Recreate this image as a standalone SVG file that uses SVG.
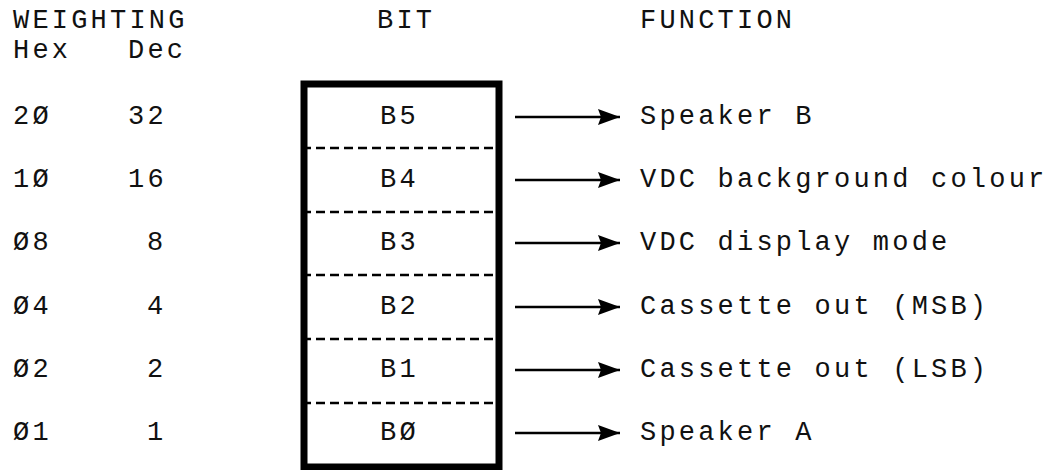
<svg xmlns="http://www.w3.org/2000/svg" width="1049" height="470" viewBox="0 0 1049 470">
  <style>
    text { font-family: "Liberation Mono", "Courier New", monospace; font-size: 27px; letter-spacing: 3.2px; fill: #111; }
    .box { fill: none; stroke: #000; stroke-width: 7; }
    .div { stroke: #000; stroke-width: 2.5; stroke-dasharray: 9 5; }
    .conn { stroke: #000; stroke-width: 2.5; fill: none; }
  </style>
  <defs>
    <marker id="ah" viewBox="0 0 22 16" refX="22" refY="8" markerWidth="22" markerHeight="16" markerUnits="userSpaceOnUse" orient="auto">
      <path d="M0,0 L22,8 L0,16 L3,8 Z" fill="#000"/>
    </marker>
  </defs>

  <g id="headings">
    <text x="13" y="28">WEIGHTING</text>
    <text x="13" y="58">Hex</text>
    <text x="128" y="58">Dec</text>
    <text x="377" y="28">BIT</text>
    <text x="640" y="28">FUNCTION</text>
  </g>

  <g id="weights">
    <text x="13" y="124">2Ø</text><text x="128" y="124">32</text>
    <text x="13" y="187">1Ø</text><text x="128" y="187">16</text>
    <text x="13" y="250">Ø8</text><text x="147" y="250">8</text>
    <text x="13" y="314">Ø4</text><text x="147" y="314">4</text>
    <text x="13" y="377">Ø2</text><text x="147" y="377">2</text>
    <text x="13" y="440">Ø1</text><text x="147" y="440">1</text>
  </g>

  <g id="register">
    <rect class="box" x="304" y="84" width="195" height="383"/>
    <line class="div" x1="302" y1="148" x2="501" y2="148"/>
    <line class="div" x1="302" y1="212" x2="501" y2="212"/>
    <line class="div" x1="302" y1="275" x2="501" y2="275"/>
    <line class="div" x1="302" y1="339" x2="501" y2="339"/>
    <line class="div" x1="302" y1="403" x2="501" y2="403"/>
  </g>

  <g id="bit-b5"><text x="380" y="124">B5</text></g>
  <g id="bit-b4"><text x="380" y="187">B4</text></g>
  <g id="bit-b3"><text x="380" y="250">B3</text></g>
  <g id="bit-b2"><text x="380" y="314">B2</text></g>
  <g id="bit-b1"><text x="380" y="377">B1</text></g>
  <g id="bit-b0"><text x="380" y="440">BØ</text></g>

  <g id="connectors">
    <line class="conn" x1="515" y1="117" x2="620" y2="117" marker-end="url(#ah)"/>
    <line class="conn" x1="515" y1="180" x2="620" y2="180" marker-end="url(#ah)"/>
    <line class="conn" x1="515" y1="243" x2="620" y2="243" marker-end="url(#ah)"/>
    <line class="conn" x1="515" y1="307" x2="620" y2="307" marker-end="url(#ah)"/>
    <line class="conn" x1="515" y1="370" x2="620" y2="370" marker-end="url(#ah)"/>
    <line class="conn" x1="515" y1="433" x2="620" y2="433" marker-end="url(#ah)"/>
  </g>

  <g id="func-speaker-b"><text x="640" y="124">Speaker B</text></g>
  <g id="func-vdc-bg"><text x="640" y="187">VDC background colour</text></g>
  <g id="func-vdc-mode"><text x="640" y="250">VDC display mode</text></g>
  <g id="func-cass-msb"><text x="640" y="314">Cassette out (MSB)</text></g>
  <g id="func-cass-lsb"><text x="640" y="377">Cassette out (LSB)</text></g>
  <g id="func-speaker-a"><text x="640" y="440">Speaker A</text></g>
</svg>
